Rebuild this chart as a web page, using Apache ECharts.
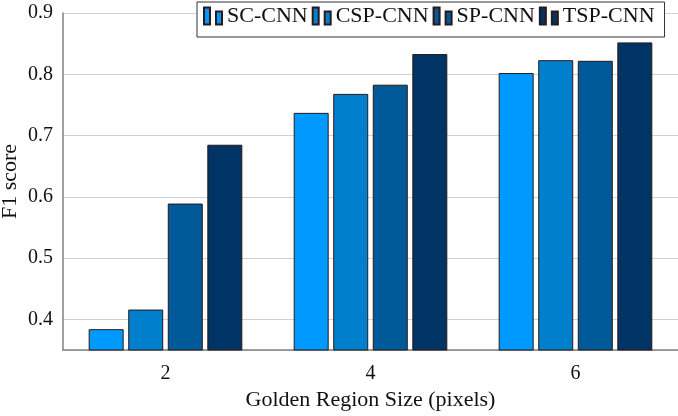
<!DOCTYPE html>
<html>
<head>
    <meta charset="UTF-8">
    <script src="https://cdn.jsdelivr.net/npm/echarts@6/dist/echarts.min.js"></script>
    <style>
        html, body { margin:0; padding:0; background:#fff; }
        #chart { width:678px; height:416px; }
    </style>
</head>
<body>
<div id="chart"></div>
<script>
    // data
    var sizes = ['2', '4', '6'];
    var names = ['SC-CNN', 'CSP-CNN', 'SP-CNN', 'TSP-CNN'];
    var scCnn  = [0.384, 0.737, 0.802];
    var cspCnn = [0.416, 0.768, 0.823];
    var spCnn  = [0.589, 0.783, 0.822];
    var tspCnn = [0.685, 0.833, 0.852];
    var colors = ['#0099ff', '#0080cc', '#005a99', '#003366'];

    var font = 'Liberation Serif';
    var values = [scCnn, cspCnn, spCnn, tspCnn];
    var series = [];
    for (var i = 0; i < names.length; i++) {
        series.push({
            name: names[i],
            type: 'bar',
            data: values[i],
            barWidth: 35,
            barGap: '13%',
            itemStyle: { color: colors[i], borderColor: '#2b1818', borderWidth: 1 }
        });
    }

    var chart = echarts.init(document.getElementById('chart'));
    chart.setOption({
        animation: false,
        textStyle: { fontFamily: font },
        grid: { left: 63, right: 0, top: 13, bottom: 66, containLabel: false, outerBoundsMode: 'none' },
        legend: {
            left: 197, top: 2,
            itemWidth: 18, itemHeight: 17, itemGap: 4,
            icon: 'path://M0,0h6v17h-6zM12,4h6v13h-6z',
            padding: [3, 10, 10, 6],
            borderColor: '#333', borderWidth: 1, backgroundColor: '#fff',
            textStyle: { fontFamily: font, fontSize: 22, color: '#111' },
            data: names
        },
        xAxis: {
            type: 'category',
            data: sizes,
            name: 'Golden Region Size (pixels)',
            nameLocation: 'middle',
            nameGap: 39,
            nameMoveOverlap: false,
            nameTextStyle: { fontFamily: font, fontSize: 22, color: '#111' },
            axisLine: { lineStyle: { color: '#808080', width: 1.5 } },
            axisTick: { alignWithLabel: true, length: 7, lineStyle: { color: '#999' } },
            axisLabel: { margin: 14, fontSize: 20, color: '#111', fontFamily: font }
        },
        yAxis: {
            type: 'value',
            min: 0.35, max: 0.9,
            splitNumber: 5,
            name: 'F1 score',
            nameLocation: 'middle',
            nameGap: 42,
            nameMoveOverlap: false,
            nameTextStyle: { fontFamily: font, fontSize: 22, color: '#111' },
            axisLine: { show: true, lineStyle: { color: '#808080', width: 1.5 } },
            axisTick: { show: false },
            axisLabel: { showMinLabel: false, margin: 10, fontSize: 20, color: '#111', fontFamily: font,
                formatter: function (v) { return v.toFixed(1); } },
            splitLine: { lineStyle: { color: '#d0d0d0', width: 1 } }
        },
        series: series
    });
</script>
</body>
</html>
